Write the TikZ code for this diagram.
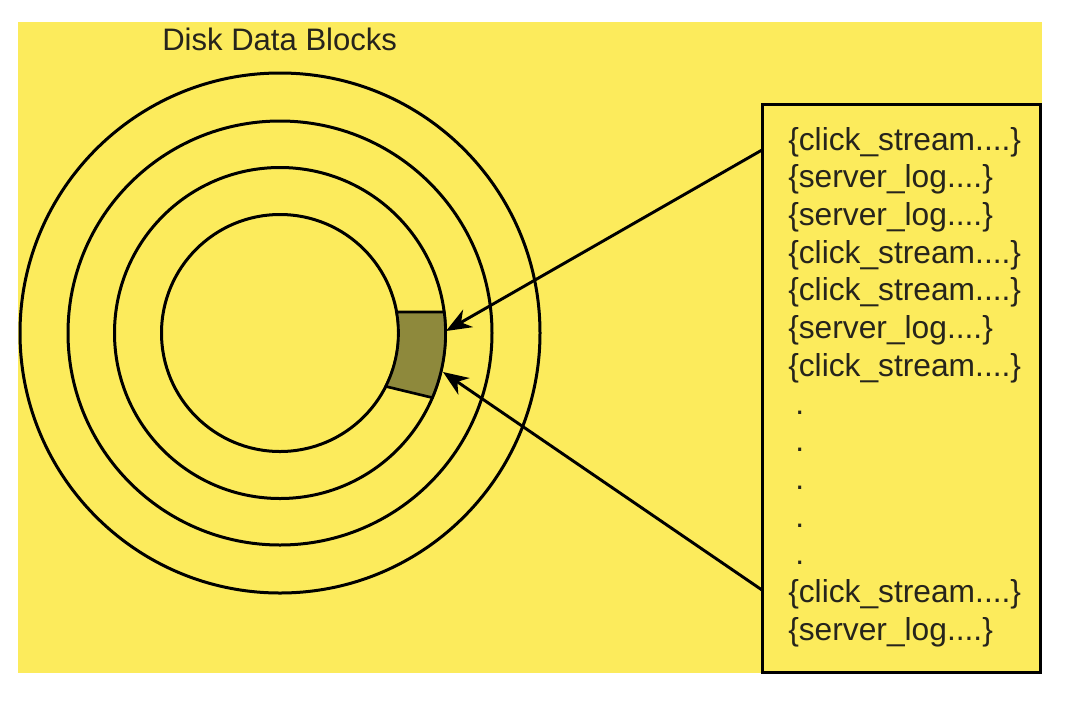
\documentclass[tikz,border=0pt]{standalone}
\usepackage{fontspec}
\setmainfont{Liberation Sans}
\usetikzlibrary{arrows.meta}
\definecolor{bgyellow}{RGB}{252,235,92}
\definecolor{blockolive}{RGB}{142,137,60}
\definecolor{inkdark}{RGB}{38,36,28}
\tikzset{
  ring/.style={draw=black, line width=2.25pt},
  txt/.style={anchor=base west, inner sep=0pt, text=inkdark, font=\fontsize{23.3}{28}\selectfont},
  boxtxt/.style={txt, font=\fontsize{23.8}{28}\selectfont},
  ptr/.style={draw=black, line width=2.2pt, -{Stealth[length=19pt, width=15pt, inset=6pt]}},
}
\begin{document}
\begin{tikzpicture}[x=0.75pt, y=-0.75pt]
\useasboundingbox (0,0) rectangle (1086,726);
\fill[bgyellow] (18,22) rectangle (1042,673);
% disk
\coordinate (c) at (280,333);
\draw[ring] (c) circle[radius=260];
\draw[ring] (c) circle[radius=212];
\draw[ring] (c) circle[radius=165.5];
\draw[ring] (c) circle[radius=118.5];
% data block
\filldraw[fill=blockolive, draw=black, line width=2pt]
  ([shift={(-7.3:165.5)}]c) arc[start angle=-7.3, end angle=23.0, radius=165.5]
  -- ([shift={(26.8:118.5)}]c) arc[start angle=26.8, end angle=-10.2, radius=118.5] -- cycle;
\coordinate (tipA) at (446,331);
\coordinate (tipB) at (443,372);
% title
\node[txt] (title) at (162,50) {Disk Data Blocks};
% log box
\node[draw=black, line width=2.25pt, minimum width=278*0.75pt, minimum height=568*0.75pt, inner sep=0pt] (log) at (901,388) {};
\coordinate (srcA) at (762,150);
\coordinate (srcB) at (762,590);
\node[boxtxt] (l1) at (788,150) {\{click\_stream....\}};
\node[boxtxt] (l2) at (788,187.7) {\{server\_log....\}};
\node[boxtxt] (l3) at (788,225.4) {\{server\_log....\}};
\node[boxtxt] (l4) at (788,263.1) {\{click\_stream....\}};
\node[boxtxt] (l5) at (788,300.8) {\{click\_stream....\}};
\node[boxtxt] (l6) at (788,338.5) {\{server\_log....\}};
\node[boxtxt] (l7) at (788,376.2) {\{click\_stream....\}};
\node[boxtxt] (d1) at (795,414) {.};
\node[boxtxt] (d2) at (795,451.6) {.};
\node[boxtxt] (d3) at (795,489.3) {.};
\node[boxtxt] (d4) at (795,527) {.};
\node[boxtxt] (d5) at (795,564.7) {.};
\node[boxtxt] (l8) at (788,602.4) {\{click\_stream....\}};
\node[boxtxt] (l9) at (788,640.1) {\{server\_log....\}};
% pointers
\draw[ptr] (srcA) -- (tipA);
\draw[ptr] (srcB) -- (tipB);
\end{tikzpicture}
\end{document}
